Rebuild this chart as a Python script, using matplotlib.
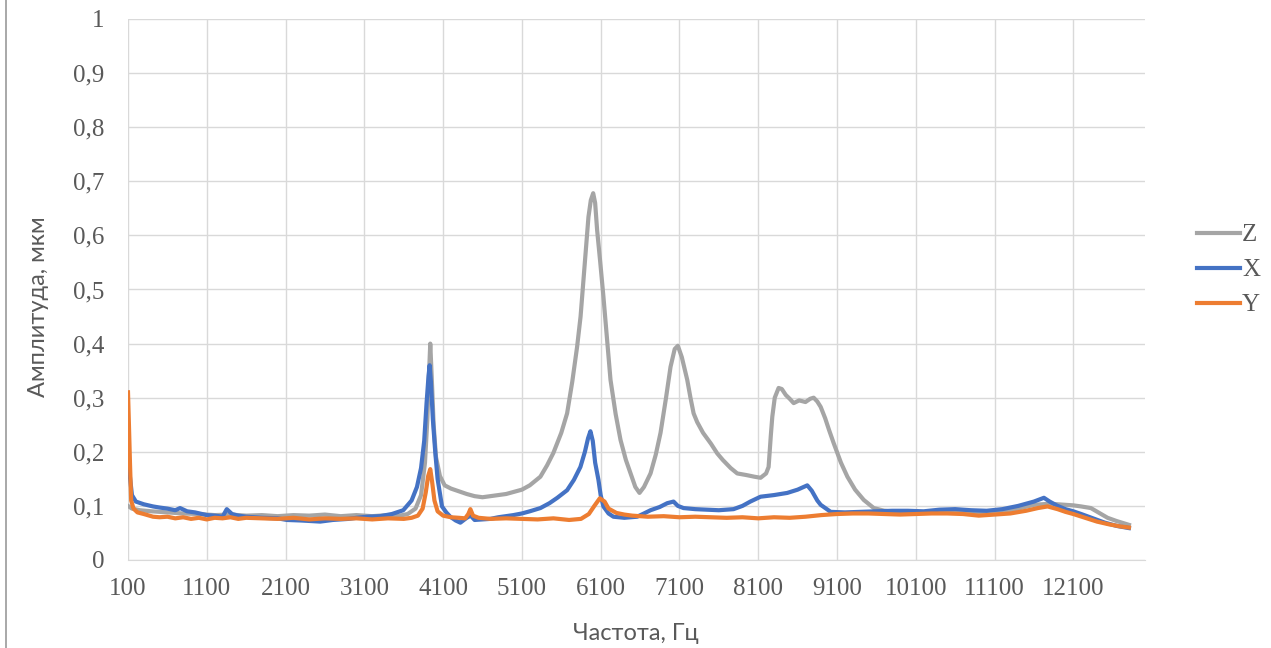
import matplotlib
matplotlib.use("Agg")
import matplotlib.pyplot as plt
from matplotlib.lines import Line2D
from matplotlib.ticker import FuncFormatter

# spectrum
z_freq = [100, 150, 250, 400, 600, 800, 1000, 1200, 1400, 1600, 1800, 2000, 2200, 2400,
          2600, 2800, 3000, 3200, 3400, 3550, 3650, 3750, 3820, 3870, 3900, 3920, 3937,
          3955, 3980, 4010, 4060, 4120, 4200, 4300, 4400, 4500, 4600, 4700, 4800, 4900,
          5000, 5100, 5200, 5335, 5420, 5500, 5600, 5674, 5740, 5801, 5845, 5881, 5920,
          5945, 5975, 6005, 6030, 6055, 6095, 6135, 6180, 6225, 6290, 6352, 6420, 6478,
          6540, 6593, 6650, 6733, 6800, 6860, 6930, 6987, 7040, 7080, 7130, 7199, 7240,
          7280, 7325, 7400, 7500, 7580, 7650, 7750, 7834, 7950, 8050, 8130, 8200, 8232,
          8260, 8279, 8310, 8359, 8400, 8450, 8500, 8550, 8620, 8700, 8760, 8804, 8850,
          8893, 8950, 9000, 9058, 9150, 9232, 9330, 9440, 9567, 9700, 9850, 10000, 10200,
          10400, 10600, 10800, 11000, 11200, 11400, 11600, 11800, 12000, 12100, 12200,
          12323, 12430, 12535, 12650, 12806]
z_amp = [0.100, 0.095, 0.092, 0.090, 0.088, 0.086, 0.085, 0.083, 0.084, 0.082, 0.083, 0.081,
         0.083, 0.082, 0.084, 0.081, 0.083, 0.081, 0.083, 0.082, 0.085, 0.095, 0.120, 0.180,
         0.260, 0.340, 0.400, 0.340, 0.250, 0.190, 0.155, 0.138, 0.132, 0.127, 0.122, 0.118,
         0.116, 0.118, 0.120, 0.122, 0.126, 0.130, 0.138, 0.154, 0.175, 0.198, 0.235, 0.271,
         0.330, 0.394, 0.450, 0.517, 0.590, 0.634, 0.665, 0.678, 0.660, 0.610, 0.550, 0.487,
         0.410, 0.333, 0.270, 0.222, 0.185, 0.161, 0.135, 0.124, 0.135, 0.160, 0.195, 0.235,
         0.300, 0.357, 0.390, 0.396, 0.375, 0.333, 0.300, 0.271, 0.255, 0.235, 0.215, 0.197,
         0.185, 0.170, 0.160, 0.157, 0.154, 0.152, 0.160, 0.172, 0.230, 0.265, 0.300, 0.318,
         0.316, 0.305, 0.298, 0.290, 0.295, 0.292, 0.298, 0.300, 0.293, 0.283, 0.262, 0.240,
         0.216, 0.180, 0.154, 0.130, 0.111, 0.096, 0.091, 0.089, 0.088, 0.088, 0.089, 0.087,
         0.088, 0.089, 0.090, 0.095, 0.102, 0.104, 0.102, 0.101, 0.099, 0.096, 0.087, 0.078,
         0.072, 0.065]

x_freq = [100, 120, 150, 200, 300, 418, 500, 600, 700, 761, 850, 950, 1100, 1200, 1300,
          1354, 1420, 1500, 1600, 1800, 2000, 2117, 2300, 2540, 2700, 2900, 3000, 3133,
          3300, 3450, 3594, 3700, 3768, 3820, 3860, 3890, 3915, 3929, 3945, 3970, 4000,
          4030, 4086, 4140, 4191, 4260, 4319, 4400, 4450, 4500, 4600, 4700, 4800, 4992,
          5100, 5200, 5335, 5450, 5550, 5674, 5760, 5843, 5900, 5940, 5970, 6000, 6030,
          6072, 6100, 6135, 6200, 6262, 6400, 6563, 6650, 6733, 6850, 6945, 7025, 7080,
          7152, 7300, 7450, 7600, 7787, 7900, 8000, 8130, 8300, 8469, 8600, 8723, 8780,
          8850, 8893, 9020, 9200, 9400, 9600, 9800, 10000, 10200, 10400, 10600, 10800,
          11000, 11200, 11400, 11600, 11727, 11800, 11900, 12000, 12100, 12200, 12350,
          12500, 12650, 12806]
x_amp = [0.175, 0.160, 0.120, 0.108, 0.103, 0.099, 0.097, 0.095, 0.092, 0.096, 0.090, 0.088,
         0.083, 0.082, 0.080, 0.094, 0.085, 0.082, 0.080, 0.078, 0.077, 0.074, 0.073, 0.071,
         0.074, 0.076, 0.078, 0.080, 0.081, 0.085, 0.092, 0.110, 0.135, 0.170, 0.220, 0.290,
         0.340, 0.360, 0.330, 0.260, 0.200, 0.150, 0.099, 0.088, 0.080, 0.073, 0.069, 0.078,
         0.082, 0.074, 0.075, 0.076, 0.079, 0.083, 0.086, 0.090, 0.096, 0.105, 0.115, 0.129,
         0.148, 0.172, 0.200, 0.225, 0.238, 0.220, 0.180, 0.148, 0.120, 0.099, 0.086, 0.080,
         0.078, 0.080, 0.086, 0.092, 0.098, 0.105, 0.108, 0.100, 0.096, 0.094, 0.093, 0.092,
         0.094, 0.100, 0.108, 0.117, 0.120, 0.124, 0.130, 0.138, 0.128, 0.110, 0.102, 0.089,
         0.088, 0.089, 0.090, 0.091, 0.091, 0.090, 0.093, 0.094, 0.092, 0.091, 0.094, 0.100,
         0.108, 0.115, 0.108, 0.100, 0.094, 0.090, 0.085, 0.077, 0.069, 0.063, 0.059]

y_freq = [100, 110, 125, 140, 170, 220, 300, 418, 500, 600, 700, 800, 900, 1000, 1100,
          1200, 1300, 1400, 1500, 1600, 1800, 2000, 2200, 2400, 2600, 2800, 3000, 3200,
          3400, 3600, 3700, 3780, 3840, 3880, 3910, 3937, 3960, 3990, 4030, 4100, 4200,
          4300, 4380, 4420, 4446, 4480, 4550, 4700, 4900, 5100, 5300, 5500, 5700, 5850,
          5950, 6020, 6089, 6150, 6200, 6300, 6400, 6500, 6700, 6900, 7100, 7300, 7500,
          7700, 7900, 8100, 8300, 8500, 8700, 8900, 9100, 9300, 9500, 9700, 9900, 10100,
          10300, 10500, 10700, 10900, 11100, 11300, 11500, 11650, 11773, 11900, 12000,
          12100, 12250, 12400, 12550, 12700, 12806]
y_amp = [0.310, 0.260, 0.180, 0.110, 0.095, 0.088, 0.085, 0.080, 0.079, 0.080, 0.077, 0.079,
         0.076, 0.078, 0.075, 0.078, 0.077, 0.079, 0.076, 0.078, 0.077, 0.076, 0.078, 0.075,
         0.077, 0.076, 0.077, 0.075, 0.077, 0.076, 0.078, 0.082, 0.095, 0.125, 0.155, 0.168,
         0.145, 0.110, 0.090, 0.082, 0.079, 0.078, 0.077, 0.085, 0.094, 0.082, 0.078, 0.076,
         0.077, 0.076, 0.075, 0.077, 0.074, 0.076, 0.085, 0.100, 0.114, 0.108, 0.095, 0.087,
         0.084, 0.082, 0.080, 0.081, 0.079, 0.080, 0.079, 0.078, 0.079, 0.077, 0.079, 0.078,
         0.080, 0.083, 0.085, 0.086, 0.086, 0.085, 0.084, 0.085, 0.086, 0.086, 0.085, 0.082,
         0.084, 0.086, 0.091, 0.096, 0.099, 0.094, 0.089, 0.085, 0.078, 0.071, 0.066, 0.062,
         0.060]

x_ticks = [100, 1100, 2100, 3100, 4100, 5100, 6100, 7100, 8100, 9100, 10100, 11100, 12100]
y_ticks = [0, 0.1, 0.2, 0.3, 0.4, 0.5, 0.6, 0.7, 0.8, 0.9, 1.0]

text_color = "#595959"
grid_color = "#D9D9D9"

fig = plt.figure(figsize=(12.71, 6.48), dpi=100)
ax = fig.add_axes([128 / 1271, 1 - 560 / 648, 1017 / 1271, 541 / 648])

ax.plot(z_freq, z_amp, color="#A5A5A5", lw=3.0, label="Z", solid_joinstyle="round")
ax.plot(x_freq, x_amp, color="#4472C4", lw=3.0, label="X", solid_joinstyle="round")
ax.plot(y_freq, y_amp, color="#ED7D31", lw=3.0, label="Y", solid_joinstyle="round")

ax.set_xlim(100, 13010)
ax.set_ylim(0, 1)
ax.set_xticks(x_ticks)
ax.set_yticks(y_ticks)
ax.yaxis.set_major_formatter(FuncFormatter(lambda v, p: ("%g" % round(v, 1)).replace(".", ",")))
ax.grid(True, color=grid_color, lw=1)
ax.set_axisbelow(True)
for side in ["top", "right", "left"]:
    ax.spines[side].set_visible(False)
ax.spines["bottom"].set_color(grid_color)
ax.tick_params(length=0, labelsize=18, labelcolor=text_color)
ax.tick_params(axis="x", pad=13)
ax.tick_params(axis="y", pad=17)
for lbl in ax.get_xticklabels() + ax.get_yticklabels():
    lbl.set_family("Liberation Serif")

fig.text(636 / 1271, 1 - 633 / 648, "Частота, Гц", ha="center", va="center",
         fontsize=17, color=text_color, family="Lato")
fig.text(39 / 1271, 1 - 307 / 648, "Амплитуда, мкм", ha="center", va="center",
         rotation=90, fontsize=17, color=text_color, family="Lato")

leg = fig.legend(loc="center left", bbox_to_anchor=(1197 / 1271, 1 - 270 / 648),
                 frameon=False, prop={"family": "Liberation Serif", "size": 18},
                 handlelength=1.7, handletextpad=0.1, labelspacing=0.5,
                 borderpad=0, borderaxespad=0)
for t in leg.get_texts():
    t.set_color(text_color)

# thin frame line on the left edge of the picture
fig.add_artist(Line2D([6 / 1271, 6 / 1271], [0, 1], color="#9A9A9A", lw=1.2,
                      transform=fig.transFigure))

fig.savefig("out.png", dpi=100)
